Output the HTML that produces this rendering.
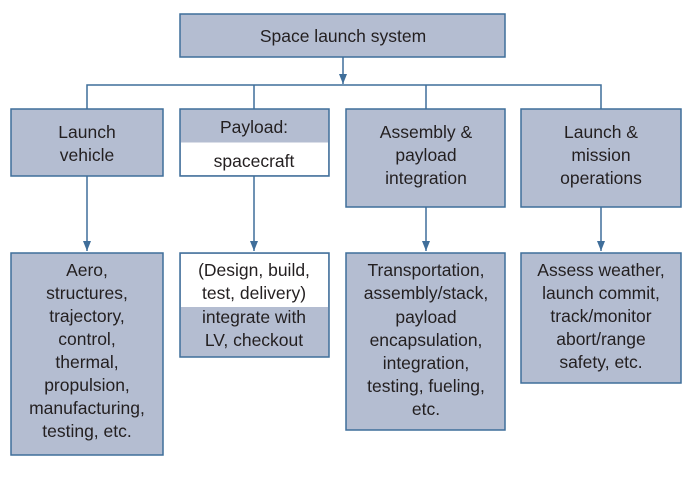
<!DOCTYPE html>
<html><head><style>
html,body{margin:0;padding:0;background:#fff;}
svg text{font-family:"Liberation Sans",sans-serif;font-size:17.5px;fill:#231f20;text-anchor:middle;}
</style></head><body>
<svg width="693" height="476" viewBox="0 0 693 476" xmlns="http://www.w3.org/2000/svg">
<defs><marker id="a" markerWidth="10" markerHeight="8" refX="10" refY="4" orient="auto" markerUnits="userSpaceOnUse"><path d="M0,0 L10,4 L0,8 Z" fill="#3f6e9a"/></marker></defs>
<g stroke="#3f6e9a" stroke-width="1.5" fill="none">
<line x1="343" y1="57" x2="343" y2="84" marker-end="url(#a)"/>
<polyline points="87,109 87,85 601,85 601,109"/>
<line x1="254" y1="85" x2="254" y2="109"/>
<line x1="426" y1="85" x2="426" y2="109"/>
<line x1="87" y1="176" x2="87" y2="251" marker-end="url(#a)"/>
<line x1="254" y1="176" x2="254" y2="251" marker-end="url(#a)"/>
<line x1="426" y1="207" x2="426" y2="251" marker-end="url(#a)"/>
<line x1="601" y1="207" x2="601" y2="251" marker-end="url(#a)"/>
</g>
<g stroke="#3f6e9a" stroke-width="1.5" fill="#b4bdd1">
<rect x="180" y="14" width="325" height="43"/>
<rect x="11" y="109" width="152" height="67"/>
<rect x="180" y="109" width="149" height="67"/>
<rect x="346" y="109" width="159" height="98"/>
<rect x="521" y="109" width="160" height="98"/>
<rect x="11" y="253" width="152" height="202"/>
<rect x="180" y="253" width="149" height="104"/>
<rect x="346" y="253" width="159" height="177"/>
<rect x="521" y="253" width="160" height="130"/>
</g>
<rect x="181" y="142.5" width="147" height="32.5" fill="#fff"/>
<rect x="181" y="254" width="147" height="53" fill="#fff"/>
<text x="343" y="42">Space launch system</text>
<text x="87" y="138">Launch</text><text x="87" y="161">vehicle</text>
<text x="254" y="133">Payload:</text><text x="254" y="167">spacecraft</text>
<text x="426" y="138">Assembly &amp;</text><text x="426" y="161">payload</text><text x="426" y="184">integration</text>
<text x="601" y="138">Launch &amp;</text><text x="601" y="161">mission</text><text x="601" y="184">operations</text>
<g>
<text x="87" y="276">Aero,</text><text x="87" y="299">structures,</text><text x="87" y="322">trajectory,</text><text x="87" y="345">control,</text><text x="87" y="368">thermal,</text><text x="87" y="391">propulsion,</text><text x="87" y="414">manufacturing,</text><text x="87" y="437">testing, etc.</text>
<text x="254" y="276">(Design, build,</text><text x="254" y="299">test, delivery)</text><text x="254" y="323">integrate with</text><text x="254" y="346">LV, checkout</text>
<text x="426" y="276">Transportation,</text><text x="426" y="299">assembly/stack,</text><text x="426" y="323">payload</text><text x="426" y="346">encapsulation,</text><text x="426" y="369">integration,</text><text x="426" y="392">testing, fueling,</text><text x="426" y="415">etc.</text>
<text x="601" y="276">Assess weather,</text><text x="601" y="299">launch commit,</text><text x="601" y="322">track/monitor</text><text x="601" y="345">abort/range</text><text x="601" y="368">safety, etc.</text>
</g>
</svg>
</body></html>
